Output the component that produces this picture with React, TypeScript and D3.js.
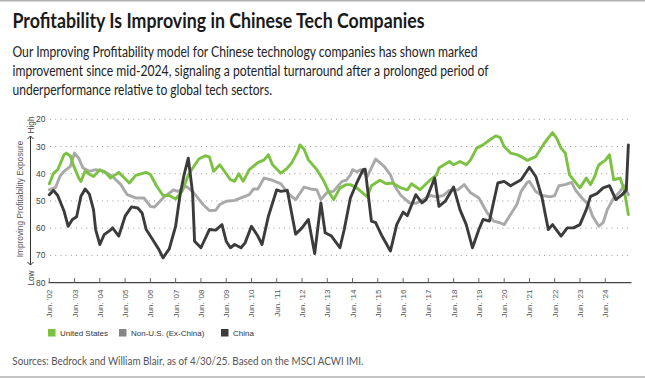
import React from "react";
import * as d3 from "d3";

const TITLE = "Profitability Is Improving in Chinese Tech Companies";
const SUBTITLE = [
  "Our Improving Profitability model for Chinese technology companies has shown marked",
  "improvement since mid-2024, signaling a potential turnaround after a prolonged period of",
  "underperformance relative to global tech sectors.",
];
const SOURCE = "Sources: Bedrock and William Blair, as of 4/30/25. Based on the MSCI ACWI IMI.";
const Y_TICKS = [20, 30, 40, 50, 60, 70, 80];
const X_TICK_YEARS = d3.range(2002, 2025);
const AXIS_TITLE = "Improving Profitability Exposure";

const US: [string, number][] = [
  ["2002-06", 43.7], ["2002-08", 39.8], ["2002-10", 38.5], ["2003-01", 33], ["2003-02", 32.4],
  ["2003-04", 33.5], ["2003-05", 36], ["2003-08", 41.6], ["2003-09", 42.8], ["2003-11", 39],
  ["2004-01", 40.2], ["2004-03", 41], ["2004-06", 38.5], ["2004-09", 39.8], ["2004-11", 41.6],
  ["2005-03", 39.5], ["2005-08", 43.4], ["2005-11", 40.6], ["2006-04", 39.5], ["2006-06", 40.3],
  ["2006-09", 44.6], ["2006-12", 48], ["2007-03", 48], ["2007-06", 49.3], ["2007-09", 46.5],
  ["2007-12", 40.5], ["2008-02", 38], ["2008-05", 34.6], ["2008-08", 33.4], ["2008-10", 33.8],
  ["2008-12", 39.1], ["2009-03", 36.7], ["2009-08", 42.2], ["2009-10", 42.8], ["2009-12", 40],
  ["2010-02", 42.8], ["2010-05", 38.5], ["2010-09", 35.9], ["2010-12", 34.9], ["2011-02", 33],
  ["2011-04", 36.7], ["2011-08", 39.8], ["2011-11", 37.9], ["2012-01", 36.1], ["2012-04", 31.8],
  ["2012-05", 29.4], ["2012-07", 31], ["2012-09", 34.9], ["2013-01", 38.5], ["2013-04", 42.2],
  ["2013-07", 47], ["2013-09", 49.5], ["2013-12", 45.2], ["2014-03", 44], ["2014-05", 44],
  ["2014-08", 45.2], ["2015-01", 48.5], ["2015-03", 44.4], ["2015-07", 42.4], ["2015-10", 43.7],
  ["2016-01", 43.4], ["2016-05", 45.2], ["2016-08", 45.9], ["2016-10", 43.7], ["2017-02", 45.9],
  ["2017-07", 42.2], ["2017-10", 40.4], ["2017-11", 37.9], ["2018-04", 35.5], ["2018-06", 36.7],
  ["2018-09", 35.5], ["2018-12", 36.7], ["2019-02", 34.9], ["2019-05", 30.6], ["2019-08", 29.4],
  ["2019-11", 27.6], ["2020-02", 26.1], ["2020-04", 26.6], ["2020-06", 30], ["2020-09", 32.4],
  ["2020-12", 33], ["2021-02", 33.7], ["2021-05", 35.1], ["2021-09", 33.7], ["2022-01", 28.8],
  ["2022-05", 24.9], ["2022-07", 27], ["2022-09", 30.6], ["2022-11", 32.4], ["2023-01", 40.4],
  ["2023-06", 45.2], ["2023-09", 41.6], ["2023-11", 44], ["2024-01", 41], ["2024-02", 38.5],
  ["2024-03", 36.7], ["2024-06", 35.1], ["2024-08", 33], ["2024-10", 42.2], ["2025-01", 41.6],
  ["2025-03", 45.9], ["2025-05", 55],
];

const NON_US: [string, number][] = [
  ["2002-06", 45.9], ["2002-09", 45], ["2002-11", 41], ["2003-01", 39.1], ["2003-04", 37.3],
  ["2003-06", 32.4], ["2003-08", 34.3], ["2003-10", 37.9], ["2004-01", 39.1], ["2004-04", 38.5],
  ["2004-08", 39.1], ["2004-12", 41], ["2005-04", 44], ["2005-07", 47.7], ["2005-11", 48.9],
  ["2006-03", 48.9], ["2006-06", 52], ["2006-08", 52.2], ["2006-12", 48.9], ["2007-05", 45.9],
  ["2007-07", 46.5], ["2007-11", 44.6], ["2008-02", 46.5], ["2008-05", 49.3], ["2008-07", 51.3],
  ["2008-10", 53.5], ["2009-01", 53.4], ["2009-03", 51.3], ["2009-06", 50.1], ["2009-10", 49.8],
  ["2010-01", 48.9], ["2010-05", 47.7], ["2010-07", 45.6], ["2010-09", 45.6], ["2010-12", 41.6],
  ["2011-04", 42.4], ["2011-08", 43.7], ["2011-12", 47.7], ["2012-03", 49.5], ["2012-07", 44.9],
  ["2012-10", 45.6], ["2013-01", 45.9], ["2013-03", 49.5], ["2013-06", 46.8], ["2013-09", 46.4],
  ["2014-01", 42.8], ["2014-03", 42.4], ["2014-05", 40.4], ["2014-06", 38.5], ["2014-08", 39.3],
  ["2014-10", 38.5], ["2015-01", 41], ["2015-05", 34.6], ["2015-09", 37.3], ["2015-12", 40.4],
  ["2016-02", 44.6], ["2016-05", 48], ["2016-09", 50.7], ["2016-12", 50.9], ["2017-04", 49.3],
  ["2017-07", 48], ["2017-10", 48.5], ["2018-01", 48], ["2018-04", 46.1], ["2018-08", 45.9],
  ["2018-11", 44], ["2019-02", 47], ["2019-06", 48.9], ["2019-10", 54.4], ["2020-01", 57.4],
  ["2020-04", 58], ["2020-06", 58.7], ["2020-09", 55], ["2020-12", 51.3], ["2021-02", 46.5],
  ["2021-05", 43.2], ["2021-06", 42.8], ["2021-09", 46.5], ["2021-12", 48], ["2022-04", 48.5],
  ["2022-06", 48], ["2022-08", 44.4], ["2022-11", 44], ["2023-02", 43.2], ["2023-04", 46.1],
  ["2023-07", 48.9], ["2023-10", 51.3], ["2023-12", 55.6], ["2024-03", 59.3], ["2024-05", 58],
  ["2024-07", 53.2], ["2024-10", 48.9], ["2025-01", 46.5], ["2025-03", 44.4], ["2025-05", 47.7],
];

const CHINA: [string, number][] = [
  ["2002-06", 47.7], ["2002-08", 46.1], ["2002-10", 48], ["2003-01", 53.8], ["2003-03", 59.3],
  ["2003-05", 56.8], ["2003-07", 55.8], ["2003-09", 48.3], ["2003-11", 45.6], ["2004-01", 47.5],
  ["2004-03", 53.2], ["2004-04", 60.5], ["2004-06", 66], ["2004-08", 62.4], ["2004-11", 60.7],
  ["2004-12", 59.9], ["2005-03", 62.9], ["2005-06", 55.6], ["2005-09", 52.2], ["2005-12", 52.6],
  ["2006-02", 54.4], ["2006-04", 60.5], ["2006-07", 64.1], ["2006-10", 67.8], ["2006-12", 70.9],
  ["2007-03", 67.6], ["2007-06", 59.3], ["2007-08", 48.3], ["2007-10", 40.4], ["2007-12", 34.3],
  ["2008-02", 47], ["2008-03", 64.8], ["2008-06", 67.2], ["2008-10", 60.5], ["2009-01", 60.7],
  ["2009-04", 58.7], ["2009-06", 64.8], ["2009-08", 67.2], ["2009-10", 66], ["2010-01", 67.2],
  ["2010-03", 65.4], ["2010-06", 59.3], ["2010-09", 62.9], ["2010-11", 66], ["2011-02", 55.6],
  ["2011-06", 45.9], ["2011-08", 46.5], ["2011-11", 46.1], ["2012-03", 62.2], ["2012-06", 59.9],
  ["2012-09", 56.8], ["2012-12", 69.3], ["2013-03", 50.7], ["2013-05", 61.7], ["2013-08", 62.9],
  ["2013-12", 67.2], ["2014-02", 60.5], ["2014-05", 48.9], ["2014-08", 43.4], ["2014-11", 38.5],
  ["2014-12", 38.3], ["2015-03", 57.4], ["2015-05", 58], ["2015-08", 62.9], ["2015-12", 68.4],
  ["2016-03", 58.7], ["2016-06", 54.1], ["2016-08", 55.4], ["2016-12", 47.7], ["2017-03", 50.7],
  ["2017-05", 49.5], ["2017-09", 41.6], ["2017-11", 52], ["2018-02", 50.1], ["2018-06", 44.9],
  ["2018-09", 53.2], ["2018-12", 58.7], ["2019-03", 67.2], ["2019-06", 60.5], ["2019-08", 56.8],
  ["2019-11", 57.4], ["2020-03", 43.4], ["2020-06", 42.8], ["2020-09", 44.4], ["2021-02", 42.2],
  ["2021-06", 37.6], ["2021-09", 41], ["2021-12", 48.9], ["2022-03", 60.5], ["2022-05", 58.7],
  ["2022-09", 62.9], ["2022-12", 59.9], ["2023-03", 59.9], ["2023-06", 58.7], ["2023-09", 53.2],
  ["2023-11", 48.3], ["2024-02", 47.3], ["2024-05", 45.2], ["2024-08", 44.4], ["2024-11", 49.5],
  ["2025-02", 47.7], ["2025-04", 46], ["2025-05", 29.4],
];

const SERIES_NAMES = ["United States", "Non-U.S. (Ex-China)", "China"];
const LINE_COLORS = ["#7cc242", "#a9a9a9", "#3b3b3b"];
const LEGEND_COLORS = ["#7cc242", "#858585", "#3b3b3b"];

const parse = d3.timeParse("%Y-%m");
const fmtTick = d3.timeFormat("'%y");

export default function App() {
  const W = 645, H = 378;
  const x = d3.scaleTime()
    .domain([new Date(2002, 5, 1), new Date(2025, 5, 1)])
    .range([49.3, 630.5]);
  const y = d3.scaleLinear().domain([20, 80]).range([119.3, 282.6]);
  const line = d3.line<[string, number]>()
    .x((d) => x(parse(d[0]) as Date))
    .y((d) => y(d[1]));

  const drawOrder = [1, 0, 2];
  const seriesData = [US, NON_US, CHINA];
  const sans = "'Liberation Sans', Arial, sans-serif";
  const legendX = [48, 119, 221];

  return (
    <svg width={W} height={H} style={{ position: "absolute", left: 0, top: 0, background: "#fff" }}
      fontFamily={sans}>
      <rect x={0} y={0} width={W} height={H} fill="#fff" />
      <line x1={0} x2={W} y1={0.75} y2={0.75} stroke="#b0b0b0" strokeWidth={1.5} />
      <line x1={0} x2={W} y1={377} y2={377} stroke="#b0b0b0" strokeWidth={1.5} />

      <text x={12.5} y={27.5} fontFamily="Lato, sans-serif" fontWeight={700} fontSize={20.5}
        fill="#1a1a1a" textLength={412} lengthAdjust="spacingAndGlyphs">{TITLE}</text>
      {SUBTITLE.map((s, i) => (
        <text key={i} x={12.5} y={57.3 + i * 18.7} fontFamily="Lato, sans-serif" fontSize={14.5}
          fill="#222" textLength={[465, 476, 259.5][i]} lengthAdjust="spacingAndGlyphs">{s}</text>
      ))}

      {/* grid */}
      {Y_TICKS.filter((t) => t < 80).map((t) => (
        <line key={t} x1={50} x2={630} y1={y(t)} y2={y(t)} stroke="#9a9a9a" strokeWidth={1}
          strokeDasharray="1 4.2" />
      ))}
      {Y_TICKS.map((t) => (
        <text key={t} x={45.5} y={y(t) + 3} textAnchor="end" fontSize={8.5} fill="#444">{t}</text>
      ))}

      {/* x axis */}
      <line x1={48.5} x2={631.5} y1={y(80)} y2={y(80)} stroke="#444" strokeWidth={1.3} />
      {X_TICK_YEARS.map((yr) => {
        const xx = x(new Date(yr, 5, 1));
        return (
          <g key={yr}>
            <line x1={xx} x2={xx} y1={y(80)} y2={y(80) - 4.5} stroke="#666" strokeWidth={1} />
            <text transform={`translate(${xx + 3},${y(80) + 7}) rotate(-90)`} textAnchor="end"
              fontSize={8} fill="#555">{`Jun. ${fmtTick(new Date(yr, 5, 1))}`}</text>
          </g>
        );
      })}

      {/* y axis title and arrow */}
      <text transform={`translate(23,199) rotate(-90)`} textAnchor="middle" fontSize={8.3}
        fill="#555">{AXIS_TITLE}</text>
      <line x1={30.5} x2={30.5} y1={136} y2={265} stroke="#333" strokeWidth={1} />
      <path d="M27.5,139 L30.5,136 L33.5,139" fill="none" stroke="#333" strokeWidth={1} />
      <path d="M27.5,262 L30.5,265 L33.5,262" fill="none" stroke="#333" strokeWidth={1} />
      <text transform={`translate(33.5,125) rotate(-90)`} textAnchor="middle" fontSize={8.3}
        fill="#444">High</text>
      <text transform={`translate(33.5,278) rotate(-90)`} textAnchor="middle" fontSize={8.3}
        fill="#444">Low</text>

      {/* lines */}
      {drawOrder.map((i) => (
        <path key={i} d={line(seriesData[i]) || ""} fill="none" stroke={LINE_COLORS[i]}
          strokeWidth={2.9} strokeLinejoin="round" strokeLinecap="round" />
      ))}

      {/* legend */}
      {SERIES_NAMES.map((n, i) => (
        <g key={n}>
          <rect x={legendX[i]} y={329} width={7.5} height={7.5} fill={LEGEND_COLORS[i]} />
          <text x={legendX[i] + 12} y={336} fontSize={8} fill="#333">{n}</text>
        </g>
      ))}

      <text x={12.3} y={365} fontFamily="Lato, sans-serif" fontSize={12} fill="#555"
        textLength={351} lengthAdjust="spacingAndGlyphs">{SOURCE}</text>
    </svg>
  );
}
